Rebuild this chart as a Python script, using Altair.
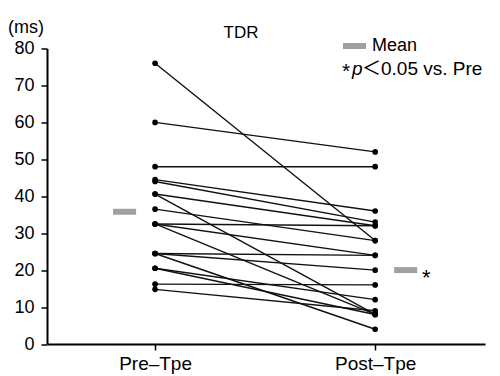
import altair as alt
import pandas as pd

# Values
times = ["Pre–Tpe", "Post–Tpe"]
pre = [76, 60, 48, 44.5, 44, 40.6, 40.6, 36.5, 32.5, 32.5, 32.5, 24.5, 24.5, 24.5, 20.5, 20.5, 16.2, 14.8]
post = [28, 52, 48, 36, 33, 32, 8, 28, 32, 24, 8, 24, 20, 4, 12, 8, 16, 9]
mean_pre = 35.8
mean_post = 20.0
y_ticks = [0, 10, 20, 30, 40, 50, 60, 70, 80]

rows = []
for i, (a, b) in enumerate(zip(pre, post)):
    rows.append({"subject": i, "t": 0, "value": a})
    rows.append({"subject": i, "t": 1, "value": b})
df = pd.DataFrame(rows)
means = pd.DataFrame({"t": [0, 1], "value": [mean_pre, mean_post]})

FONT = "Liberation Sans, Arial, Noto Sans CJK JP"

xscale = alt.Scale(domain=[-0.491, 1.499], nice=False, zero=False)
yscale = alt.Scale(domain=[0, 80], nice=False)

x_axis = alt.Axis(values=[0, 1], title=None, grid=False,
                  labelExpr=f"datum.value == 0 ? '{times[0]}' : '{times[1]}'",
                  labelFontSize=19, labelFont=FONT, labelColor="black",
                  labelPadding=4, tickSize=6, tickColor="black", tickWidth=1.5,
                  domainColor="black", domainWidth=2, labelOverlap=False)
y_axis = alt.Axis(values=y_ticks, tickCount=9, title=None, grid=False,
                  labelFontSize=18, labelFont=FONT, labelColor="black",
                  labelPadding=7, tickSize=6, tickColor="black", tickWidth=1.5,
                  domainColor="black", domainWidth=2, labelOverlap=False,
                  labelFlush=False)

X = alt.X("t:Q", scale=xscale, axis=x_axis)
Y = alt.Y("value:Q", scale=yscale, axis=y_axis)

base = alt.Chart(df)
lines = base.mark_line(color="#111", strokeWidth=1.4).encode(
    x=X, y=Y, detail="subject:N",
)
points = base.mark_point(filled=True, color="black", size=32, opacity=1).encode(
    x=X, y=Y,
)

mean_pre_mark = alt.Chart(means[means.t == 0]).mark_tick(
    orient="horizontal", size=23, thickness=6, color="#a0a0a0", xOffset=-30.5, opacity=1
).encode(x=X, y=Y)
mean_post_mark = alt.Chart(means[means.t == 1]).mark_tick(
    orient="horizontal", size=23, thickness=6, color="#a0a0a0", xOffset=30.5, opacity=1
).encode(x=X, y=Y)

one = pd.DataFrame({"a": [0]})

def txt(text, x, y, size, align="left", style="normal"):
    return alt.Chart(one).mark_text(
        text=text, align=align, baseline="alphabetic", fontSize=size,
        font=FONT, color="black", fontStyle=style
    ).encode(x=alt.value(x), y=alt.value(y))

star_post = txt("*", 375, 236, 22)
title = txt("TDR", 194, -11, 17, align="center")
unit = txt("(ms)", -39, -16, 18)
legend_rect = alt.Chart(one).mark_rect(color="#a0a0a0").encode(
    x=alt.value(296), x2=alt.value(319), y=alt.value(-5.5), y2=alt.value(0.5)
)
legend_mean = txt("Mean", 325, 2, 18)
legend_star = txt("*", 295, 29, 21)
legend_p = txt("p", 305, 26, 19, style="italic")
legend_rest = txt("＜0.05 vs. Pre", 315, 26, 19)

chart = alt.layer(
    lines, points, mean_pre_mark, mean_post_mark, star_post, title, unit,
    legend_rect, legend_mean, legend_star, legend_p, legend_rest
).properties(
    width=438, height=295.5,
    autosize=alt.AutoSizeParams(type="none"),
    padding={"left": 39, "top": 40.5, "right": 7, "bottom": 30},
).configure_view(stroke=None)

chart.save("out.html", embed_options={"renderer": "svg", "actions": False})
